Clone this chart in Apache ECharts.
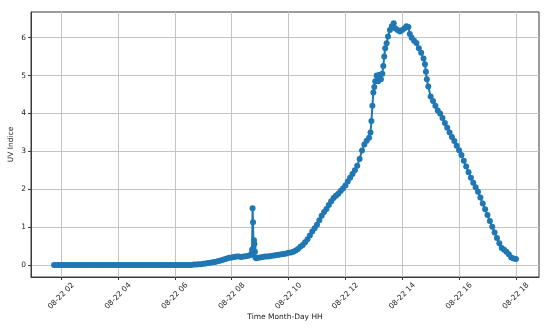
<!DOCTYPE html>
<html>
<head>
<meta charset="utf-8">
<script src="https://cdn.jsdelivr.net/npm/echarts@6/dist/echarts.min.js"></script>
<style>html,body{margin:0;padding:0;background:#fff}#c{width:550px;height:329px}</style>
</head>
<body>
<div id="c"></div>
<script>
// Time of day (HH:MM on 08-22) and UV index
var times = [
"01:45","01:50","01:55","02:00","02:05","02:10","02:15","02:20","02:25","02:30","02:35","02:40","02:45","02:50","02:55",
"03:00","03:05","03:10","03:15","03:20","03:25","03:30","03:35","03:40","03:45","03:50","03:55",
"04:00","04:05","04:10","04:15","04:20","04:25","04:30","04:35","04:40","04:45","04:50","04:55",
"05:00","05:05","05:10","05:15","05:20","05:25","05:30","05:35","05:40","05:45","05:50","05:55",
"06:00","06:05","06:10","06:15","06:20","06:25","06:30","06:35","06:40","06:45","06:50","06:55",
"07:00","07:05","07:10","07:15","07:20","07:25","07:30","07:35","07:40","07:45","07:50","07:55",
"08:00","08:05","08:10","08:15","08:20","08:25","08:30","08:35","08:40","08:42","08:43","08:44","08:45","08:46","08:47","08:48","08:49","08:50","08:52","08:55",
"09:00","09:05","09:10","09:15","09:20","09:25","09:30","09:35","09:40","09:45","09:50","09:55",
"10:00","10:05","10:10","10:15","10:20","10:25","10:30","10:35","10:40","10:45","10:50","10:55",
"11:00","11:05","11:10","11:15","11:20","11:25","11:30","11:35","11:40","11:45","11:50","11:55",
"12:00","12:05","12:10","12:15","12:20","12:25","12:30","12:35","12:40","12:45","12:50","12:53","12:55","12:57","12:59",
"13:01","13:03","13:06","13:09","13:12","13:15","13:18","13:20","13:22","13:24","13:27","13:30","13:34","13:38","13:42","13:45","13:50","13:55",
"14:00","14:05","14:09","14:13","14:16","14:20","14:25","14:30","14:35","14:40","14:45","14:48","14:50","14:52","14:55",
"15:00","15:05","15:10","15:15","15:20","15:25","15:30","15:35","15:40","15:45","15:50","15:55",
"16:00","16:05","16:10","16:15","16:20","16:25","16:30","16:35","16:40","16:45","16:50","16:55",
"17:00","17:05","17:10","17:15","17:20","17:25","17:30","17:35","17:40","17:45","17:50","17:55",
"18:00"
];
var uvValues = [
0,0,0,0,0,0,0,0,0,0,0,0,0,0,0,
0,0,0,0,0,0,0,0,0,0,0,0,
0,0,0,0,0,0,0,0,0,0,0,0,
0,0,0,0,0,0,0,0,0,0,0,0,
0,0,0,0,0,0,0,0,0.01,0.01,0.02,0.02,
0.03,0.04,0.05,0.06,0.07,0.08,0.10,0.11,0.13,0.15,0.17,0.19,
0.20,0.21,0.22,0.22,0.21,0.22,0.23,0.24,0.26,0.30,0.40,1.50,1.13,0.45,0.65,0.55,0.35,0.20,0.18,0.19,
0.20,0.21,0.22,0.22,0.23,0.24,0.25,0.26,0.27,0.28,0.29,0.30,
0.32,0.33,0.35,0.38,0.42,0.48,0.53,0.60,0.68,0.78,0.88,0.97,
1.06,1.18,1.30,1.40,1.48,1.58,1.68,1.77,1.83,1.88,1.95,2.02,
2.10,2.20,2.30,2.40,2.50,2.62,2.80,3.02,3.18,3.28,3.36,3.50,3.80,4.20,4.55,
4.70,4.85,5.00,4.85,5.02,4.90,5.05,5.25,5.50,5.72,5.85,6.03,6.20,6.30,6.38,6.25,6.20,6.16,
6.20,6.25,6.30,6.28,6.10,6.00,5.92,5.86,5.72,5.60,5.45,5.30,5.10,4.90,4.71,
4.45,4.33,4.20,4.08,4.00,3.88,3.75,3.62,3.50,3.38,3.27,3.15,
3.03,2.90,2.75,2.60,2.45,2.30,2.17,2.05,1.93,1.78,1.62,1.47,
1.32,1.16,1.01,0.86,0.71,0.57,0.45,0.40,0.35,0.28,0.20,0.17,
0.16
];
var xTickHours = [2,4,6,8,10,12,14,16,18];
var yTicks = [0,1,2,3,4,5,6];
var xLabelPrefix = "08-22 ";

function toHours(s){ var p = s.split(":"); return +p[0] + (+p[1])/60; }
var seriesData = times.map(function(t,i){ return [toHours(t), uvValues[i]]; });

var font = "DejaVu Sans";
var ink = "#222";
var spine = "#3a3a3a";
var gridColor = "#c4c4c4";
var chart = echarts.init(document.getElementById('c'), null, {renderer:'canvas'});
chart.setOption({
  animation: false,
  backgroundColor: '#fff',
  grid: {left: 31, right: 11, top: 12, bottom: 52, containLabel: false, outerBoundsMode: 'none',
         show: true, borderColor: spine, borderWidth: 1, backgroundColor: 'transparent'},
  xAxis: {
    type: 'value', min: 0.9375, max: 18.8125,
    name: 'Time Month-Day HH', nameLocation: 'middle', nameGap: 36, nameMoveOverlap: false,
    nameTextStyle: {fontFamily: font, fontSize: 7.5, color: ink},
    axisLine: {show: true, onZero: false, lineStyle: {color: spine, width: 1}},
    axisTick: {show: true, length: 3, lineStyle: {color: spine, width: 1}, customValues: xTickHours},
    axisLabel: {customValues: xTickHours, rotate: 45, align: 'center', verticalAlign: 'middle', margin: 19,
      fontFamily: font, fontSize: 7.5, color: ink,
      formatter: function(v){ var h = Math.round(v); return xLabelPrefix + (h < 10 ? '0' + h : '' + h); }},
    splitLine: {show: true, lineStyle: {color: gridColor, width: 1}}
  },
  yAxis: {
    type: 'value', min: -0.318, max: 6.678,
    name: 'UV Indice', nameLocation: 'middle', nameGap: 15.5, nameMoveOverlap: false,
    nameTextStyle: {fontFamily: font, fontSize: 7.5, color: ink},
    axisLine: {show: true, onZero: false, lineStyle: {color: spine, width: 1}},
    axisTick: {show: true, length: 3, lineStyle: {color: spine, width: 1}, customValues: yTicks},
    axisLabel: {customValues: yTicks, margin: 5, fontFamily: font, fontSize: 7.5, color: ink},
    splitLine: {show: true, lineStyle: {color: gridColor, width: 1}}
  },
  series: [{
    type: 'line', data: seriesData, symbol: 'circle', symbolSize: 6, showSymbol: true,
    itemStyle: {color: '#1f77b4', borderWidth: 0}, lineStyle: {color: '#1f77b4', width: 2},
    emphasis: {disabled: true}, silent: true, sampling: null
  }]
});
</script>
</body>
</html>
